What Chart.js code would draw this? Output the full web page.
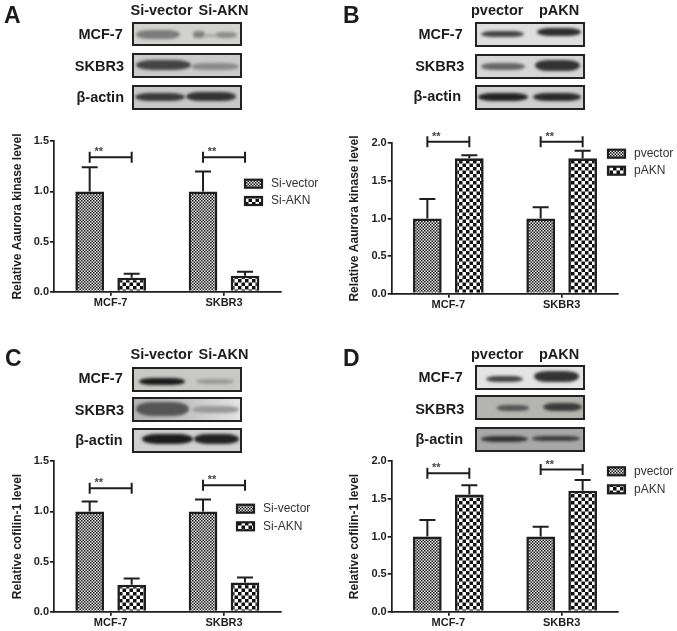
<!DOCTYPE html>
<html>
<head>
<meta charset="utf-8">
<script src="https://cdn.jsdelivr.net/npm/chart.js@4"></script>
<style>
html, body { margin: 0; padding: 0; background: #fff; }
#page { position: relative; width: 677px; height: 631px; overflow: hidden; font-family: "Liberation Sans", Arial, sans-serif; color: #1c1c1c; filter: blur(0.35px); }
#page canvas { position: absolute; }
.txt { position: absolute; font-weight: bold; white-space: nowrap; line-height: 1; }
.blot { position: absolute; box-sizing: border-box; border: 2.5px solid #222; overflow: hidden; }
.band { position: absolute; border-radius: 30% / 50%; filter: blur(1.5px); }
</style>
</head>
<body>
<div id="page"></div>
<script>
const categories = ['MCF-7', 'SKBR3'];

// panel A
const aVector = [1.0, 1.0];
const aVectorTop = [1.24, 1.20];
const aKnock = [0.14, 0.16];
const aKnockTop = [0.18, 0.20];
const aBracket = [1.34, 1.34];
// panel B
const bVector = [1.0, 1.0];
const bVectorTop = [1.26, 1.15];
const bOver = [1.8, 1.8];
const bOverTop = [1.84, 1.90];
const bBracket = [2.02, 2.02];
// panel C
const cVector = [1.0, 1.0];
const cVectorTop = [1.10, 1.12];
const cKnock = [0.27, 0.29];
const cKnockTop = [0.33, 0.34];
const cBracket = [1.23, 1.26];
// panel D
const dVector = [1.0, 1.0];
const dVectorTop = [1.22, 1.13];
const dOver = [1.56, 1.61];
const dOverTop = [1.68, 1.75];
const dBracket = [1.84, 1.89];

const ink = '#1e1e1e';
const page = document.getElementById('page');

function checker(cell, dark, light) {
    const c = document.createElement('canvas');
    c.width = c.height = Math.ceil(cell * 2);
    const g = c.getContext('2d');
    g.fillStyle = light;
    g.fillRect(0, 0, c.width, c.height);
    g.fillStyle = dark;
    g.fillRect(0, 0, cell, cell);
    g.fillRect(cell, cell, cell, cell);
    return g.createPattern(c, 'repeat');
}
const finePattern = checker(1.5, '#1c1c1c', '#e8e8e8');
const coarsePattern = checker(3.5, '#101010', '#ffffff');

function addText(str, x, cy, size, align) {
    const el = document.createElement('div');
    el.className = 'txt';
    el.textContent = str;
    el.style.fontSize = size + 'px';
    el.style.top = (cy - size / 2) + 'px';
    if (align === 'right') el.style.right = (677 - x) + 'px';
    else el.style.left = x + 'px';
    page.appendChild(el);
}

function addBlot(x, y, w, h, bg, bands) {
    const el = document.createElement('div');
    el.className = 'blot';
    el.style.cssText = `left:${x}px;top:${y}px;width:${w}px;height:${h}px;background:${bg}`;
    bands.forEach(([x0, x1, cy, t, col]) => {
        const b = document.createElement('div');
        b.className = 'band';
        b.style.cssText = `left:${x0 - x - 2.5}px;width:${x1 - x0}px;top:${cy - t / 2 - y - 2.5}px;height:${t}px;background:${col}`;
        el.appendChild(b);
    });
    page.appendChild(el);
}

function addPanel(p) {
    const canvas = document.createElement('canvas');
    canvas.width = p.width;
    canvas.height = 186;
    canvas.style.left = p.left + 'px';
    canvas.style.top = p.top + 'px';
    page.appendChild(canvas);

    new Chart(canvas, {
        type: 'bar',
        data: {
            labels: categories,
            datasets: [
                { label: p.names[0], data: p.first, backgroundColor: finePattern, borderColor: ink, borderWidth: 2.6 },
                { label: p.names[1], data: p.second, backgroundColor: coarsePattern, borderColor: ink, borderWidth: 2.6 }
            ]
        },
        options: {
            responsive: false,
            animation: false,
            devicePixelRatio: 1,
            barPercentage: 0.683,
            categoryPercentage: 0.741,
            layout: { padding: { left: 0, right: p.width - p.axisRight, top: p.axisTop, bottom: 0 } },
            plugins: { legend: { display: false }, tooltip: { enabled: false } },
            scales: {
                x: {
                    afterFit(scale) { scale.height = 186 - p.axisBottom; },
                    border: { color: ink, width: 1.7 },
                    grid: { offset: false, drawOnChartArea: false, color: ink, lineWidth: 1.7, tickLength: 4 },
                    ticks: { color: ink, padding: 1, maxRotation: 0, font: { family: 'Liberation Sans', size: 11, weight: 'bold' } }
                },
                y: {
                    min: 0,
                    max: p.max,
                    afterFit(scale) { scale.width = p.axisLeft; },
                    border: { color: ink, width: 1.7 },
                    grid: { drawOnChartArea: false, color: ink, lineWidth: 1.7, tickLength: 4 },
                    title: { display: true, text: p.title, color: ink, padding: { top: p.titlePad, bottom: 0 }, font: { family: 'Liberation Sans', size: 12, weight: 'bold' } },
                    ticks: {
                        stepSize: 0.5,
                        color: ink,
                        padding: 1,
                        font: { family: 'Liberation Sans', size: 11, weight: 'bold' },
                        callback: v => v.toFixed(1)
                    }
                }
            }
        },
        plugins: [{
            id: 'marks',
            afterDatasetsDraw(chart) {
                const ctx = chart.ctx;
                const y = chart.scales.y;
                ctx.save();
                ctx.strokeStyle = ink;
                ctx.lineWidth = 2;

                // error bars, upper side only
                [p.firstTop, p.secondTop].forEach((tops, d) => {
                    const bars = chart.getDatasetMeta(d).data;
                    tops.forEach((top, i) => {
                        const px = bars[i].x;
                        ctx.beginPath();
                        ctx.moveTo(px, y.getPixelForValue(d ? p.second[i] : p.first[i]));
                        ctx.lineTo(px, y.getPixelForValue(top));
                        ctx.moveTo(px - 8, y.getPixelForValue(top));
                        ctx.lineTo(px + 8, y.getPixelForValue(top));
                        ctx.stroke();
                    });
                });

                // significance brackets
                p.bracket.forEach((level, i) => {
                    const x0 = chart.getDatasetMeta(0).data[i].x + p.bracketShift;
                    const x1 = chart.getDatasetMeta(1).data[i].x + p.bracketShift;
                    const py = y.getPixelForValue(level);
                    ctx.lineWidth = 2;
                    ctx.beginPath();
                    ctx.moveTo(x0, py - 5.5);
                    ctx.lineTo(x0, py + 5.5);
                    ctx.moveTo(x0, py);
                    ctx.lineTo(x1, py);
                    ctx.moveTo(x1, py - 5.5);
                    ctx.lineTo(x1, py + 5.5);
                    ctx.stroke();
                    ctx.fillStyle = '#444';
                    ctx.font = 'bold 11px "Liberation Sans"';
                    ctx.textAlign = 'center';
                    ctx.textBaseline = 'middle';
                    ctx.fillText('**', x0 + 9, py - 5);
                });

                // legend
                chart.data.datasets.forEach((ds, i) => {
                    const cy = p.legendY + i * p.legendStep;
                    ctx.fillStyle = ds.backgroundColor;
                    ctx.fillRect(p.legendX, cy - 4, 17, 8);
                    ctx.lineWidth = 2.2;
                    ctx.strokeRect(p.legendX, cy - 4, 17, 8);
                    ctx.fillStyle = '#333';
                    ctx.font = '12px "Liberation Sans"';
                    ctx.textAlign = 'left';
                    ctx.textBaseline = 'middle';
                    ctx.fillText(ds.label, p.legendX + 26, cy);
                });
                ctx.restore();
            }
        }]
    });
}

// panel letters, lane headers and blot labels
addText('A', 4, 15, 23);
addText('Si-vector', 130.5, 10.7, 14.5);
addText('Si-AKN', 198.5, 10.7, 14.5);
addText('MCF-7', 122.7, 34.3, 14.5, 'right');
addText('SKBR3', 124, 66.3, 14.5, 'right');
addText('β-actin', 124, 97.7, 14.5, 'right');

addText('B', 343, 15, 23);
addText('pvector', 471, 10.7, 14.5);
addText('pAKN', 539, 10.7, 14.5);
addText('MCF-7', 462.7, 34.3, 14.5, 'right');
addText('SKBR3', 464.3, 66, 14.5, 'right');
addText('β-actin', 461, 96, 14.5, 'right');

addText('C', 5, 358.3, 23);
addText('Si-vector', 130.5, 354.3, 14.5);
addText('Si-AKN', 198.5, 354.3, 14.5);
addText('MCF-7', 122.7, 378.3, 14.5, 'right');
addText('SKBR3', 124, 410, 14.5, 'right');
addText('β-actin', 122.7, 440.7, 14.5, 'right');

addText('D', 343, 358.3, 23);
addText('pvector', 471, 354, 14.5);
addText('pAKN', 539, 354, 14.5);
addText('MCF-7', 462.7, 377.3, 14.5, 'right');
addText('SKBR3', 464.3, 409, 14.5, 'right');
addText('β-actin', 463, 439, 14.5, 'right');

// western blot strips
addBlot(132, 21.5, 109.5, 24.5, '#d2d2d0', [[136, 180, 34.5, 9, '#7c7c7c'], [193, 205, 35, 7, '#808080'], [204, 216, 35.5, 3, '#a8a8a8'], [215, 237, 35, 6, '#8c8c8c']]);
addBlot(132, 53, 109.5, 24.5, '#cbcbcb', [[136, 191, 65.5, 10, '#444'], [191, 239, 66.5, 7, '#8a8a8a']]);
addBlot(132, 85, 109.5, 24.5, '#c8c8c8', [[135, 185, 97, 8, '#3a3a3a'], [186, 236, 97, 9, '#333']]);

addBlot(475.3, 21.7, 109.5, 25, '#dedede', [[482, 525, 34.5, 6.5, '#444'], [538, 582, 32.5, 8, '#2e2e2e']]);
addBlot(475.3, 54, 109.5, 25, '#d6d6d6', [[482, 526, 66.5, 7, '#666'], [536, 581, 65.5, 11, '#333']]);
addBlot(475.3, 85.3, 109.5, 25, '#cfcfcf', [[479, 529, 98, 8, '#222'], [534, 582, 98, 8, '#2a2a2a']]);

addBlot(132, 367, 109.5, 24.5, '#c8c8c6', [[139, 185, 381.7, 7, '#1a1a1a'], [196, 234, 382, 4.5, '#999']]);
addBlot(132, 397.3, 109.5, 24.5, 'linear-gradient(90deg,#b4b4b4,#c4c4c4 50%,#e4e4e4)', [[136, 189, 410, 14, '#555'], [192, 239, 410, 7, '#999']]);
addBlot(132, 428, 109.5, 24.5, '#d0d0d0', [[142, 193, 439, 10, '#1c1c1c'], [194, 239, 439, 10, '#222']]);

addBlot(475.3, 365, 109.5, 25, '#e4e4e4', [[487, 524, 379, 6, '#444'], [535, 580, 376.5, 11, '#333']]);
addBlot(475.3, 395.3, 109.5, 25, '#b4b4b0', [[498, 530, 408.7, 5.5, '#555'], [544, 583, 408, 8, '#3a3a3a']]);
addBlot(475.3, 426.7, 109.5, 25, '#a8a8a8', [[482, 529, 439.7, 6, '#333'], [533, 581, 439, 5.5, '#3a3a3a']]);

// bar charts
addPanel({
    left: 0, top: 125, width: 340, axisLeft: 54, axisRight: 280.7, axisTop: 16.3, axisBottom: 166.7,
    max: 1.5, title: 'Relative Aaurora kinase level', titlePad: 10.4,
    names: ['Si-vector', 'Si-AKN'], first: aVector, firstTop: aVectorTop, second: aKnock, secondTop: aKnockTop,
    bracket: aBracket, bracketShift: 0, legendX: 245, legendY: 58.7, legendStep: 17.3
});
addPanel({
    left: 340, top: 125, width: 337, axisLeft: 51.7, axisRight: 278.3, axisTop: 18.3, axisBottom: 168.7,
    max: 2.0, title: 'Relative Aaurora kinase level', titlePad: 7.4,
    names: ['pvector', 'pAKN'], first: bVector, firstTop: bVectorTop, second: bOver, secondTop: bOverTop,
    bracket: bBracket, bracketShift: 0, legendX: 268, legendY: 28.7, legendStep: 17
});
addPanel({
    left: 0, top: 445, width: 340, axisLeft: 54, axisRight: 280.7, axisTop: 16.3, axisBottom: 166.7,
    max: 1.5, title: 'Relative cofilin-1 level', titlePad: 10.4,
    names: ['Si-vector', 'Si-AKN'], first: cVector, firstTop: cVectorTop, second: cKnock, secondTop: cKnockTop,
    bracket: cBracket, bracketShift: 0, legendX: 237, legendY: 63.7, legendStep: 17.6
});
addPanel({
    left: 340, top: 445, width: 337, axisLeft: 51.7, axisRight: 278.3, axisTop: 16.3, axisBottom: 166.7,
    max: 2.0, title: 'Relative cofilin-1 level', titlePad: 7.4,
    names: ['pvector', 'pAKN'], first: dVector, firstTop: dVectorTop, second: dOver, secondTop: dOverTop,
    bracket: dBracket, bracketShift: 0, legendX: 268, legendY: 26.3, legendStep: 18
});
</script>
</body>
</html>
